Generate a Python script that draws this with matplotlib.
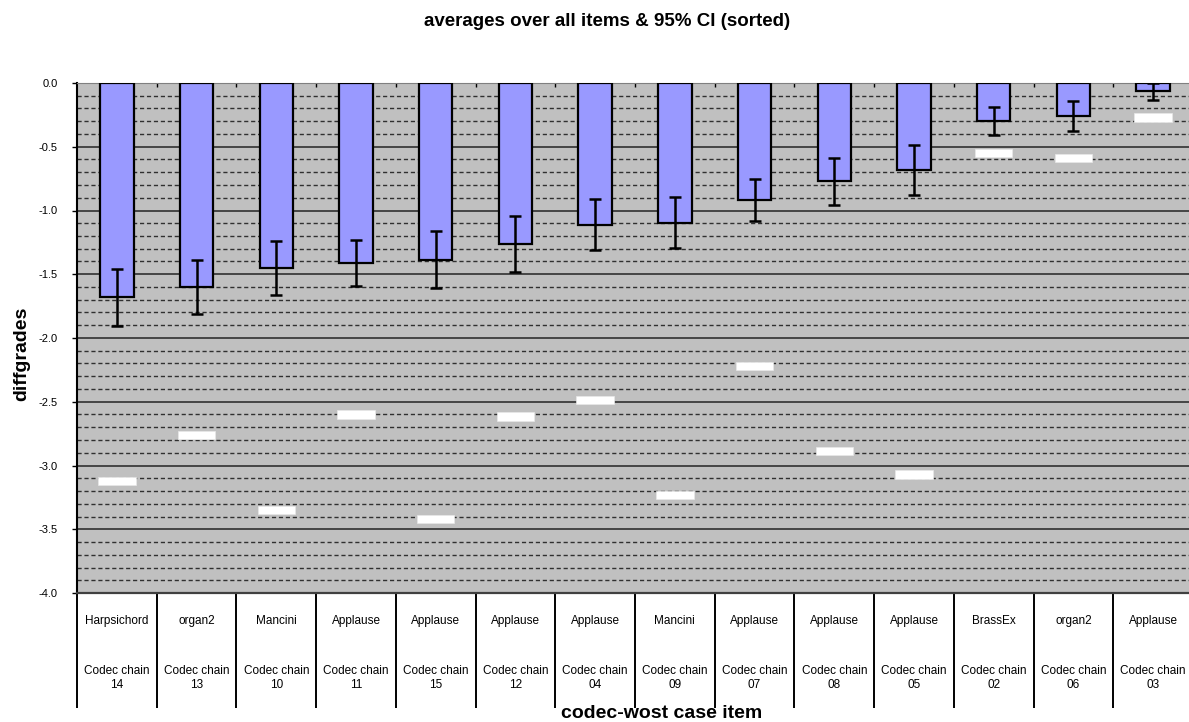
import matplotlib
matplotlib.use("Agg")
import matplotlib.pyplot as plt
import numpy as np
from matplotlib.ticker import MultipleLocator, FormatStrFormatter

plt.rcParams['font.family'] = ['Liberation Sans', 'DejaVu Sans']
plt.rcParams['axes.unicode_minus'] = False

# per codec chain: worst-case item, mean diffgrade, 95% CI half-width, worst grade
items = ["Harpsichord", "organ2", "Mancini", "Applause", "Applause", "Applause", "Applause",
         "Mancini", "Applause", "Applause", "Applause", "BrassEx", "organ2", "Applause"]
chains = ["14", "13", "10", "11", "15", "12", "04", "09", "07", "08", "05", "02", "06", "03"]
means = [-1.68, -1.60, -1.45, -1.41, -1.385, -1.265, -1.11, -1.095, -0.92, -0.77, -0.68,
         -0.295, -0.26, -0.065]
ci95 = [0.225, 0.213, 0.21, 0.18, 0.225, 0.22, 0.20, 0.20, 0.166, 0.185, 0.195, 0.11, 0.117, 0.067]
worst = [-3.12, -2.76, -3.35, -2.60, -3.42, -2.615, -2.485, -3.23, -2.22, -2.885, -3.07,
         -0.55, -0.59, -0.27]

W, H = 1189, 722
fig = plt.figure(figsize=(W / 100, H / 100), dpi=100)
ax = fig.add_axes([77 / W, 1 - 593 / H, (1193 - 77) / W, (593 - 83) / H])
ax.set_facecolor('#C0C0C0')

x = np.arange(len(means))
ax.bar(x, means, width=0.42, color='#9999FF', edgecolor='black', linewidth=1.6, zorder=3)
ax.errorbar(x, means, yerr=ci95, fmt='none', ecolor='black', elinewidth=1.8,
            capsize=4.6, capthick=1.8, zorder=4)
# worst-case markers
mh = 0.066
ax.bar(x, mh, bottom=np.array(worst) - mh / 2, width=0.47, color='white',
       edgecolor='#E8E8E8', linewidth=0.5, zorder=3)

ax.set_xlim(-0.5, len(means) - 0.5)
ax.set_ylim(-4, 0)
ax.yaxis.set_major_locator(MultipleLocator(0.5))
ax.yaxis.set_minor_locator(MultipleLocator(0.1))
ax.yaxis.set_major_formatter(FormatStrFormatter('%.1f'))
ax.grid(which='major', axis='y', color='#303030', linewidth=1.2, zorder=1)
ax.grid(which='minor', axis='y', color='#303030', linewidth=1.0, linestyle=(0, (3, 2)), zorder=1)
ax.set_axisbelow(True)
ax.tick_params(axis='y', which='major', direction='out', length=3.6, width=1,
               pad=10.5, labelsize=8, color='black')
ax.tick_params(axis='y', which='minor', length=0)

ax.set_xticks(x)
ax.set_xticklabels([])
ax.tick_params(axis='x', which='major', length=0)
ax.set_xticks(x[:-1] + 0.5, minor=True)
ax.tick_params(axis='x', which='minor', top=True, bottom=False, direction='in',
               length=3, width=1, color='black')

ax.spines['right'].set_visible(False)
ax.spines['left'].set_color('black')
ax.spines['left'].set_linewidth(1.5)
ax.spines['top'].set_color('#808080')
ax.spines['bottom'].set_color('#404040')
ax.spines['bottom'].set_linewidth(1.6)

# category table below the axis
trans = ax.get_xaxis_transform()
ax.vlines(np.arange(len(means) + 1) - 0.5, -115 / 510, 0, transform=trans,
          colors='black', linewidth=1.4, clip_on=False)
for i in x:
    ax.annotate(items[i], xy=(i, 0), xycoords=trans, xytext=(0, -28),
                textcoords='offset pixels', ha='center', va='center', fontsize=8.5)
    ax.annotate("Codec chain\n" + chains[i], xy=(i, 0), xycoords=trans, xytext=(0, -85),
                textcoords='offset pixels', ha='center', va='center', fontsize=8.5,
                linespacing=1.2)

fig.text(607 / W, 1 - 22 / H, "averages over all items & 95% CI (sorted)",
         ha='center', va='center', fontsize=13.5, fontweight='bold')
fig.text(22 / W, 1 - 354 / H, "diffgrades", rotation=90, ha='center', va='center',
         fontsize=14, fontweight='bold')
fig.text(662 / W, 0.0, "codec-wost case item", ha='center', va='bottom',
         fontsize=14, fontweight='bold')

fig.savefig("out.png", dpi=100)
